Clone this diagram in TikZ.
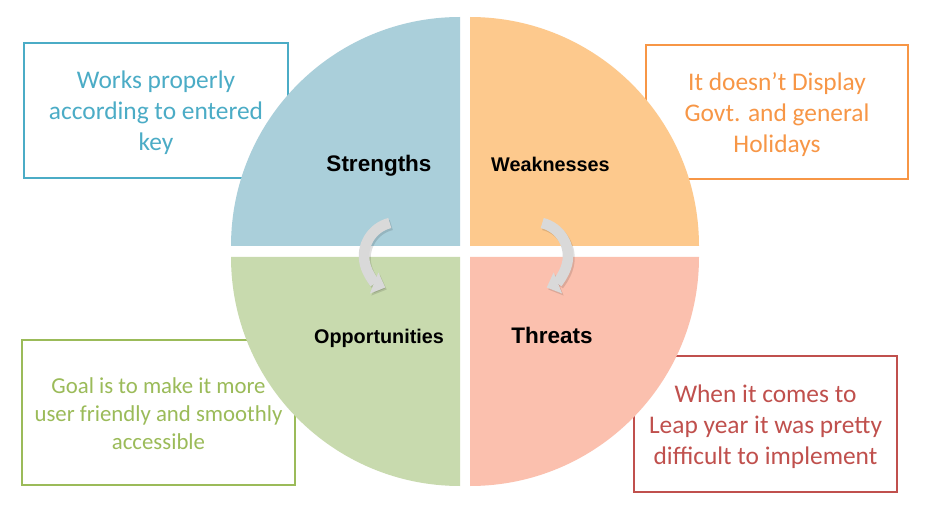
\documentclass[tikz,border=0pt]{standalone}
\usepackage{fontspec}
\setmainfont{Carlito}
\newfontfamily\labelfont{Liberation Sans}
\usetikzlibrary{arrows.meta}
\definecolor{qblue}{HTML}{AACFDA}
\definecolor{qorange}{HTML}{FDC98D}
\definecolor{qgreen}{HTML}{C8DAAE}
\definecolor{qred}{HTML}{FBC0AE}
\definecolor{tblue}{HTML}{4BACC6}
\definecolor{torange}{HTML}{F79646}
\definecolor{tgreen}{HTML}{9BBB59}
\definecolor{tred}{HTML}{C0504D}
\definecolor{arrowgray}{HTML}{D9D9D9}
\tikzset{
  infobox/.style={draw=#1, line width=1.2pt, inner sep=0pt},
  infotext/.style={text=#1, inner sep=0pt, align=center,
    font=\fontsize{25.4}{31}\selectfont},
  biglabel/.style={anchor=base, font=\labelfont\bfseries\fontsize{22.5}{27}\selectfont},
  smalllabel/.style={anchor=base, font=\labelfont\bfseries\fontsize{19.8}{24}\selectfont},
  cyclearrow/.style={draw=arrowgray, line width=10.5pt, -{Triangle[width=22pt,length=12pt]}},
  arrowshadow/.style={draw=black, opacity=0.12, line width=10.5pt, -{Triangle[width=22pt,length=12pt]}}
}
\begin{document}
\begin{tikzpicture}[x=1pt,y=1pt]
\useasboundingbox (0,0) rectangle (927,531);
\fill[white] (0,0) rectangle (927,531);
% text boxes (behind the circle)
\node[infobox=tblue, minimum width=264pt, minimum height=135pt] (sbox) at (156,420.5) {};
\node[infotext=tblue] (stxt) at ([yshift=-2.5pt]sbox.center)
  {Works properly\\according to entered\\key};
\node[infobox=torange, minimum width=262pt, minimum height=134pt] (wbox) at (777,419) {};
\node[infotext=torange] (wtxt) at ([yshift=-2.5pt]wbox.center)
  {It doesn’t Display\\Govt. and general\\Holidays};
\node[infobox=tgreen, minimum width=273pt, minimum height=145pt] (obox) at (158.5,118.5) {};
\node[infotext=tgreen, font=\fontsize{22.8}{28}\selectfont] (otxt) at ([yshift=-1pt]obox.center)
  {Goal is to make it more\\user friendly and smoothly\\accessible};
\node[infobox=tred, minimum width=263pt, minimum height=136pt] (tbox) at (765.5,107) {};
\node[infotext=tred] (ttxt) at ([yshift=-2.5pt]tbox.center)
  {When it comes to\\Leap year it was pretty\\difficult to implement};
% quadrants
\fill[qblue] (460,285) -- (231,285) arc[start angle=180,end angle=90,radius=229] -- cycle;
\fill[qorange] (470,285) -- (470,514) arc[start angle=90,end angle=0,radius=229] -- cycle;
\fill[qgreen] (460,274) -- (460,45) arc[start angle=270,end angle=180,radius=229] -- cycle;
\fill[qred] (470,274) -- (699,274) arc[start angle=0,end angle=-90,radius=229] -- cycle;
% labels
\node[biglabel] (s) at (379,359) {Strengths};
\node[smalllabel] (w) at (550.5,359) {Weaknesses};
\node[smalllabel] (o) at (379,187) {Opportunities};
\node[biglabel] (t) at (552,187) {Threats};
% cycle arrows
\coordinate (lc) at (398,275);
\coordinate (rc) at (534,275);
\draw[arrowshadow] ([shift={(1.5,-2)}]lc) ++(104:34) arc[start angle=104,end angle=248,radius=34];
\draw[cyclearrow] (lc) ++(104:34) arc[start angle=104,end angle=248,radius=34];
\draw[arrowshadow] ([shift={(1.5,-2)}]rc) ++(76:34) arc[start angle=76,end angle=-68,radius=34];
\draw[cyclearrow] (rc) ++(76:34) arc[start angle=76,end angle=-68,radius=34];
\end{tikzpicture}
\end{document}
